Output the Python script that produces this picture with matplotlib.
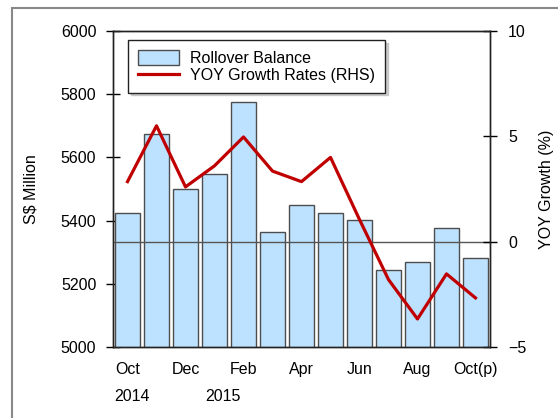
import matplotlib.pyplot as plt
import numpy as np
from matplotlib.patches import Rectangle

plt.rcParams['font.family'] = ['Liberation Sans', 'DejaVu Sans']

# data
months = ['Oct', 'Nov', 'Dec', 'Jan', 'Feb', 'Mar', 'Apr', 'May', 'Jun',
          'Jul', 'Aug', 'Sep', 'Oct(p)']
balance = [5424, 5674, 5500, 5547, 5775, 5364, 5450, 5424, 5402,
           5244, 5269, 5377, 5282]
growth = [2.85, 5.5, 2.6, 3.6, 4.97, 3.35, 2.85, 4.0, 1.05,
          -1.8, -3.67, -1.53, -2.67]
years = ['2014', '2015']
year_pos = [0.15, 3.3]

fs = 11.5
fig = plt.figure(figsize=(5.58, 4.18), dpi=100)
ax1 = fig.add_axes([113/558, 1-347/418, 377/558, 316/418])
ax2 = ax1.twinx()

x = np.arange(len(months))
ax1.bar(x, balance, width=0.83, color='#BDE2FF', edgecolor='#4d4d4d',
        linewidth=1.0, label='Rollover Balance', zorder=2)
ax1.set_ylim(5000, 6000)
ax1.set_xlim(-0.5, len(months) - 0.5)
ax1.set_yticks(np.arange(5000, 6001, 200))
ax1.set_xticks(x)
ax1.set_xticklabels([m if i % 2 == 0 else '' for i, m in enumerate(months)])
ax1.tick_params(axis='y', direction='inout', length=10, width=1, pad=7, labelsize=fs)
ax1.tick_params(axis='x', direction='in', length=6, width=1, pad=11, labelsize=fs)
ax1.set_ylabel('S$ Million', fontsize=fs, labelpad=16)

ax2.axhline(0, color='#555555', lw=1.0, zorder=1)
ax2.plot(x, growth, color='#C00000', lw=2.3, label='YOY Growth Rates (RHS)', zorder=3)
ax2.set_ylim(-5, 10)
ax2.set_yticks([-5, 0, 5, 10])
ax2.tick_params(axis='y', direction='inout', length=10, width=1, pad=8, labelsize=fs)
ax2.set_ylabel('YOY Growth (%)', fontsize=fs, labelpad=9)

for ax in (ax1, ax2):
    for s in ax.spines.values():
        s.set_linewidth(1.0)
        s.set_color('#222222')

for yr, p in zip(years, year_pos):
    ax1.text(p, -0.158, yr, transform=ax1.get_xaxis_transform(),
             ha='center', va='center', fontsize=fs)

h1, l1 = ax1.get_legend_handles_labels()
h2, l2 = ax2.get_legend_handles_labels()
leg = ax2.legend(h1 + h2, l1 + l2, loc='upper left', bbox_to_anchor=(0.04, 0.97),
                 fontsize=fs, frameon=True, fancybox=False,
                 shadow={'color': '#b0b0b0', 'alpha': 0.6},
                 edgecolor='#222222', handlelength=2.6, handleheight=1.1,
                 labelspacing=0.05, borderpad=0.6, handletextpad=0.7,
                 borderaxespad=0)
leg.get_frame().set_linewidth(1.0)

# outer frame
fig.patches.append(Rectangle((12/558, -0.1), 1.2, 1 - 8/418 + 0.1,
                             transform=fig.transFigure, fill=False,
                             edgecolor='#888888', lw=1.5))

fig.savefig('out.png', dpi=100)
